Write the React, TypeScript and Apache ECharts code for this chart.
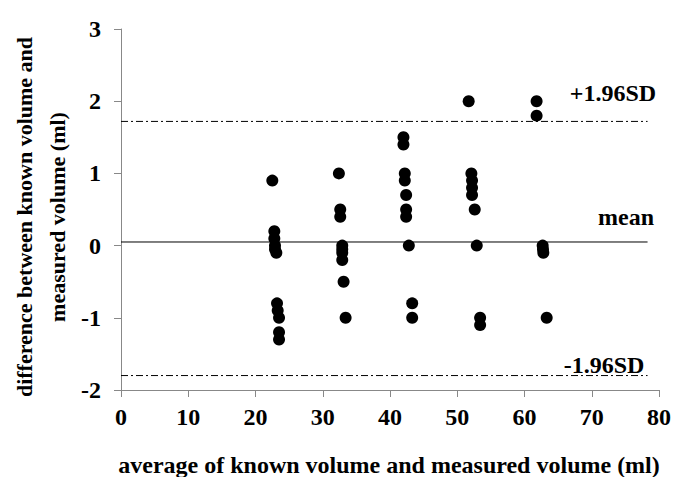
import React, { useEffect, useRef } from "react";
import * as echarts from "echarts";

// Bland-Altman data: average (x) and difference (y)
const pointX = [
  22.5, 22.8, 22.8, 22.9, 22.9, 23.1, 23.2, 23.3, 23.5, 23.5, 23.5,
  32.4, 32.6, 32.6, 32.9, 32.9, 32.9, 32.9, 33.1, 33.4,
  42.0, 42.0, 42.2, 42.2, 42.4, 42.4, 42.4, 42.8, 43.3, 43.3,
  51.7, 52.1, 52.2, 52.2, 52.2, 52.6, 52.9, 53.4, 53.4,
  61.8, 61.8, 62.7, 62.75, 62.8, 63.3,
];
const pointY = [
  0.9, 0.2, 0.1, 0.0, -0.05, -0.1, -0.8, -0.9, -1.0, -1.2, -1.3,
  1.0, 0.5, 0.4, 0.0, -0.05, -0.1, -0.2, -0.5, -1.0,
  1.5, 1.4, 1.0, 0.9, 0.7, 0.5, 0.4, 0.0, -0.8, -1.0,
  2.0, 1.0, 0.9, 0.8, 0.7, 0.5, 0.0, -1.0, -1.1,
  2.0, 1.8, 0.0, -0.05, -0.1, -1.0,
];

const meanDiff = 0.05;
const upperLimit = 1.72;
const lowerLimit = -1.8;
const lineXRange = [0, 78.3];

const xTicks = [0, 80, 10];
const yTicks = [-2, 3, 1];

const FONT = "'Liberation Serif', 'Times New Roman', serif";

export default function App() {
  const ref = useRef<HTMLDivElement>(null);
  useEffect(() => {
    if (!ref.current) return;
    const chart = echarts.init(ref.current, undefined, { renderer: "svg" });
    const points = pointX.map((x, i) => [x, pointY[i]]);
    const hLine = (v: number) => lineXRange.map((x) => [x, v]);
    chart.setOption({
      animation: false,
      backgroundColor: "#fff",
      grid: { left: 121, right: 16, top: 29, bottom: 87, containLabel: false },
      xAxis: {
        type: "value",
        min: xTicks[0],
        max: xTicks[1],
        interval: xTicks[2],
        splitLine: { show: false },
        axisLine: { onZero: false, lineStyle: { color: "#888", width: 1 } },
        axisTick: { show: true, length: 7, lineStyle: { color: "#888" } },
        axisLabel: {
          color: "#000",
          fontFamily: FONT,
          fontWeight: "bold",
          fontSize: 24,
          margin: 15,
        },
      },
      yAxis: {
        type: "value",
        min: yTicks[0],
        max: yTicks[1],
        interval: yTicks[2],
        splitLine: { show: false },
        axisLine: { show: true, onZero: false, lineStyle: { color: "#888", width: 1 } },
        axisTick: { show: true, length: 7, lineStyle: { color: "#888" } },
        axisLabel: {
          color: "#000",
          fontFamily: FONT,
          fontWeight: "bold",
          fontSize: 24,
          margin: 20,
        },
      },
      series: [
        {
          type: "line",
          data: hLine(meanDiff),
          symbol: "none",
          lineStyle: { color: "#000", width: 1 },
          silent: true,
        },
        {
          type: "line",
          data: hLine(upperLimit),
          symbol: "none",
          lineStyle: { color: "#000", width: 1, type: [7, 3, 2, 3] },
          silent: true,
        },
        {
          type: "line",
          data: hLine(lowerLimit),
          symbol: "none",
          lineStyle: { color: "#000", width: 1, type: [7, 3, 2, 3] },
          silent: true,
        },
        {
          type: "scatter",
          data: points,
          symbol: "circle",
          symbolSize: 12,
          itemStyle: { color: "#000", opacity: 1 },
        },
      ],
      graphic: [
        {
          type: "text",
          x: 613,
          y: 93,
          style: {
            text: "+1.96SD",
            fill: "#000",
            font: `bold 24px ${FONT}`,
            textAlign: "center",
            textVerticalAlign: "middle",
          },
        },
        {
          type: "text",
          x: 626,
          y: 217,
          style: {
            text: "mean",
            fill: "#000",
            font: `bold 24px ${FONT}`,
            textAlign: "center",
            textVerticalAlign: "middle",
          },
        },
        {
          type: "text",
          x: 604,
          y: 365,
          style: {
            text: "-1.96SD",
            fill: "#000",
            font: `bold 24px ${FONT}`,
            textAlign: "center",
            textVerticalAlign: "middle",
          },
        },
        {
          type: "text",
          x: 389,
          y: 465,
          style: {
            text: "average of known volume and measured volume (ml)",
            fill: "#000",
            font: `bold 24px ${FONT}`,
            textAlign: "center",
            textVerticalAlign: "middle",
          },
        },
        {
          type: "text",
          x: 41,
          y: 217,
          rotation: Math.PI / 2,
          style: {
            text: "difference between known volume and\nmeasured volume (ml)",
            fill: "#000",
            font: `bold 22px ${FONT}`,
            lineHeight: 33,
            textAlign: "center",
            textVerticalAlign: "middle",
          },
        },
      ],
    });
    return () => chart.dispose();
  }, []);
  return (
    <div
      ref={ref}
      style={{ position: "fixed", left: 0, top: 0, width: 675, height: 477 }}
    />
  );
}
